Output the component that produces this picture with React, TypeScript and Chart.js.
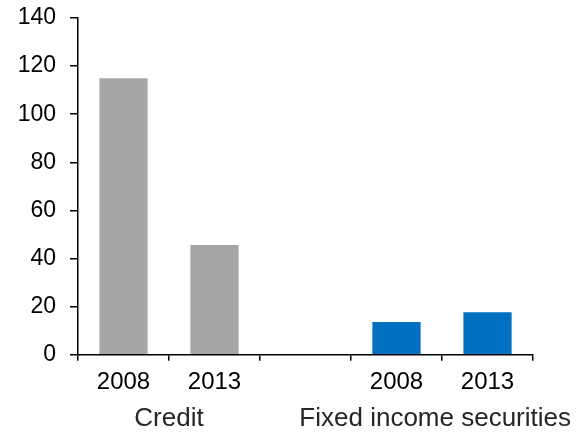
import React, { useEffect, useRef } from "react";
import { Chart, registerables } from "chart.js";

Chart.register(...registerables);

const categories = ["2008", "2013", "", "2008", "2013"];
const values = [115, 45.6, null, 13.6, 17.7];
const barColors = ["#A6A6A6", "#A6A6A6", "#A6A6A6", "#0070C0", "#0070C0"];
const groupLabels = ["Credit", "Fixed income securities"];
const groupStart = [0, 3];
const groupEnd = [1, 4];
const yMin = 0;
const yMax = 140;
const yStep = 20;

const FONT = "'Liberation Sans', Arial, sans-serif";

const groupLabelPlugin = {
  id: "groupLabels",
  afterDraw(chart: any) {
    const ctx = chart.ctx;
    const x = chart.scales.x;
    ctx.save();
    ctx.font = `26px ${FONT}`;
    ctx.fillStyle = "#262626";
    ctx.textAlign = "center";
    ctx.textBaseline = "middle";
    groupLabels.forEach((label, i) => {
      const left = x.getPixelForValue(groupStart[i]);
      const right = x.getPixelForValue(groupEnd[i]);
      let cx = (left + right) / 2;
      const w = ctx.measureText(label).width;
      const maxRight = chart.width - 13;
      if (cx + w / 2 > maxRight) cx = maxRight - w / 2;
      ctx.fillText(label, cx, 419);
    });
    ctx.restore();
  },
};

export default function App() {
  const canvasRef = useRef<HTMLCanvasElement | null>(null);

  useEffect(() => {
    document.body.style.margin = "0";
    const canvas = canvasRef.current;
    if (!canvas) return;
    const chart = new Chart(canvas, {
      type: "bar",
      data: {
        labels: categories,
        datasets: [
          {
            data: values as any,
            backgroundColor: barColors,
            borderWidth: 0,
            categoryPercentage: 1,
            barPercentage: 0.53,
          },
        ],
      },
      options: {
        animation: false,
        responsive: true,
        maintainAspectRatio: false,
        layout: { padding: { left: 0, right: 51, top: 18, bottom: 0 } },
        plugins: {
          legend: { display: false },
          tooltip: { enabled: false },
        },
        scales: {
          x: {
            type: "category",
            offset: true,
            afterFit(scale: any) {
              scale.height = 78.3;
              scale.paddingLeft = 0;
              scale.paddingRight = 0;
            },
            grid: {
              offset: true,
              drawOnChartArea: false,
              drawTicks: true,
              tickLength: 6,
              color: "#000000",
              lineWidth: 1.5,
            },
            border: { display: true, color: "#000000", width: 1.5 },
            ticks: {
              color: "#000000",
              font: { family: FONT, size: 24 },
              padding: 7,
              maxRotation: 0,
              autoSkip: false,
            },
          },
          y: {
            min: yMin,
            max: yMax,
            afterFit(scale: any) {
              scale.width = 78;
              scale.paddingTop = 0;
              scale.paddingBottom = 0;
            },
            grid: {
              drawOnChartArea: false,
              drawTicks: true,
              tickLength: 8,
              color: "#000000",
              lineWidth: 1.5,
            },
            border: { display: true, color: "#000000", width: 1.5 },
            ticks: {
              stepSize: yStep,
              color: "#000000",
              font: { family: FONT, size: 23 },
              padding: 14,
            },
          },
        },
      },
      plugins: [groupLabelPlugin],
    });
    return () => chart.destroy();
  }, []);

  return (
    <div style={{ width: 584, height: 433, position: "relative", background: "#ffffff" }}>
      <canvas ref={canvasRef} />
    </div>
  );
}
